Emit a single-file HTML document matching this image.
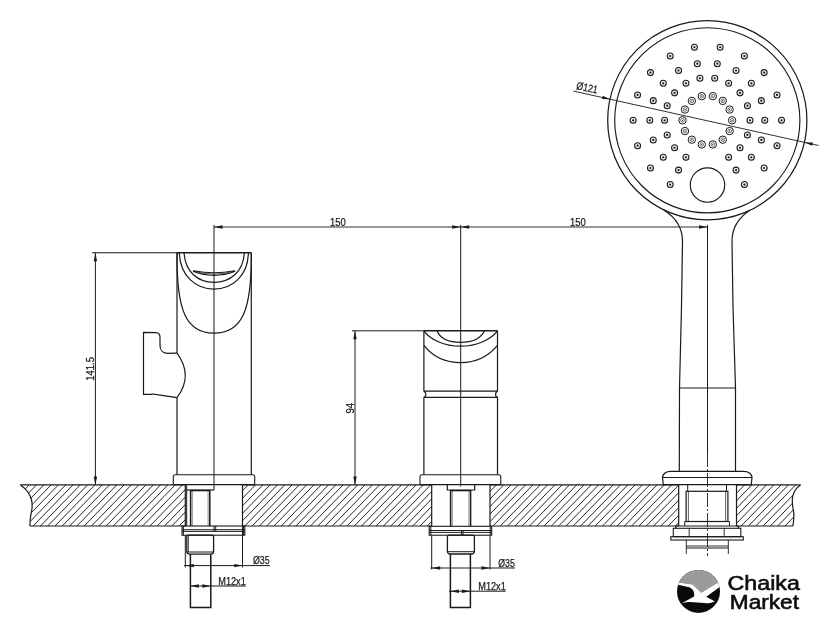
<!DOCTYPE html>
<html><head><meta charset="utf-8"><title>Drawing</title>
<style>
html,body{margin:0;padding:0;background:#fff;}
svg{display:block;filter:grayscale(1);}
text{font-family:"Liberation Sans",sans-serif;fill:#1a1a1a;stroke:#1a1a1a;stroke-width:0.25px;}
text.lgt{fill:#0d0d0d;stroke:#0d0d0d;stroke-width:0.6px;stroke-linejoin:round;}
</style></head><body>
<svg width="840" height="629" viewBox="0 0 840 629" stroke="#1a1a1a" fill="none" stroke-linecap="butt">
<rect x="0" y="0" width="840" height="629" fill="#fff" stroke="none"/>
<defs>
<clipPath id="tb"><path d="M20.4,484.9 Q29.5,491 31.5,500 Q33,506 31,514 Q29.9,519 29.9,526.0 L792.9,526.0 Q794.3,518 793.7,512 Q791.8,503 792.5,497.5 Q794,489 800.5,484.9 Z"/></clipPath>
</defs>
<g clip-path="url(#tb)" stroke-width="0.9">
<line x1="-112.90" y1="526.00" x2="-73.00" y2="484.90" stroke-width="0.95" />
<line x1="-105.60" y1="526.00" x2="-65.70" y2="484.90" stroke-width="0.95" />
<line x1="-98.30" y1="526.00" x2="-58.40" y2="484.90" stroke-width="0.95" />
<line x1="-91.00" y1="526.00" x2="-51.10" y2="484.90" stroke-width="0.95" />
<line x1="-83.70" y1="526.00" x2="-43.80" y2="484.90" stroke-width="0.95" />
<line x1="-76.40" y1="526.00" x2="-36.50" y2="484.90" stroke-width="0.95" />
<line x1="-69.10" y1="526.00" x2="-29.20" y2="484.90" stroke-width="0.95" />
<line x1="-61.80" y1="526.00" x2="-21.90" y2="484.90" stroke-width="0.95" />
<line x1="-54.50" y1="526.00" x2="-14.60" y2="484.90" stroke-width="0.95" />
<line x1="-47.20" y1="526.00" x2="-7.30" y2="484.90" stroke-width="0.95" />
<line x1="-39.90" y1="526.00" x2="-0.00" y2="484.90" stroke-width="0.95" />
<line x1="-32.60" y1="526.00" x2="7.30" y2="484.90" stroke-width="0.95" />
<line x1="-25.30" y1="526.00" x2="14.60" y2="484.90" stroke-width="0.95" />
<line x1="-18.00" y1="526.00" x2="21.90" y2="484.90" stroke-width="0.95" />
<line x1="-10.70" y1="526.00" x2="29.20" y2="484.90" stroke-width="0.95" />
<line x1="-3.40" y1="526.00" x2="36.50" y2="484.90" stroke-width="0.95" />
<line x1="3.90" y1="526.00" x2="43.80" y2="484.90" stroke-width="0.95" />
<line x1="11.20" y1="526.00" x2="51.10" y2="484.90" stroke-width="0.95" />
<line x1="18.50" y1="526.00" x2="58.40" y2="484.90" stroke-width="0.95" />
<line x1="25.80" y1="526.00" x2="65.70" y2="484.90" stroke-width="0.95" />
<line x1="33.10" y1="526.00" x2="73.00" y2="484.90" stroke-width="0.95" />
<line x1="40.40" y1="526.00" x2="80.30" y2="484.90" stroke-width="0.95" />
<line x1="47.70" y1="526.00" x2="87.60" y2="484.90" stroke-width="0.95" />
<line x1="55.00" y1="526.00" x2="94.90" y2="484.90" stroke-width="0.95" />
<line x1="62.30" y1="526.00" x2="102.20" y2="484.90" stroke-width="0.95" />
<line x1="69.60" y1="526.00" x2="109.50" y2="484.90" stroke-width="0.95" />
<line x1="76.90" y1="526.00" x2="116.80" y2="484.90" stroke-width="0.95" />
<line x1="84.20" y1="526.00" x2="124.10" y2="484.90" stroke-width="0.95" />
<line x1="91.50" y1="526.00" x2="131.40" y2="484.90" stroke-width="0.95" />
<line x1="98.80" y1="526.00" x2="138.70" y2="484.90" stroke-width="0.95" />
<line x1="106.10" y1="526.00" x2="146.00" y2="484.90" stroke-width="0.95" />
<line x1="113.40" y1="526.00" x2="153.30" y2="484.90" stroke-width="0.95" />
<line x1="120.70" y1="526.00" x2="160.60" y2="484.90" stroke-width="0.95" />
<line x1="128.00" y1="526.00" x2="167.90" y2="484.90" stroke-width="0.95" />
<line x1="135.30" y1="526.00" x2="175.20" y2="484.90" stroke-width="0.95" />
<line x1="142.60" y1="526.00" x2="182.50" y2="484.90" stroke-width="0.95" />
<line x1="149.90" y1="526.00" x2="189.80" y2="484.90" stroke-width="0.95" />
<line x1="157.20" y1="526.00" x2="197.10" y2="484.90" stroke-width="0.95" />
<line x1="164.50" y1="526.00" x2="204.40" y2="484.90" stroke-width="0.95" />
<line x1="171.80" y1="526.00" x2="211.70" y2="484.90" stroke-width="0.95" />
<line x1="179.10" y1="526.00" x2="219.00" y2="484.90" stroke-width="0.95" />
<line x1="186.40" y1="526.00" x2="226.30" y2="484.90" stroke-width="0.95" />
<line x1="193.70" y1="526.00" x2="233.60" y2="484.90" stroke-width="0.95" />
<line x1="201.00" y1="526.00" x2="240.90" y2="484.90" stroke-width="0.95" />
<line x1="208.30" y1="526.00" x2="248.20" y2="484.90" stroke-width="0.95" />
<line x1="215.60" y1="526.00" x2="255.50" y2="484.90" stroke-width="0.95" />
<line x1="222.90" y1="526.00" x2="262.80" y2="484.90" stroke-width="0.95" />
<line x1="230.20" y1="526.00" x2="270.10" y2="484.90" stroke-width="0.95" />
<line x1="237.50" y1="526.00" x2="277.40" y2="484.90" stroke-width="0.95" />
<line x1="244.80" y1="526.00" x2="284.70" y2="484.90" stroke-width="0.95" />
<line x1="252.10" y1="526.00" x2="292.00" y2="484.90" stroke-width="0.95" />
<line x1="259.40" y1="526.00" x2="299.30" y2="484.90" stroke-width="0.95" />
<line x1="266.70" y1="526.00" x2="306.60" y2="484.90" stroke-width="0.95" />
<line x1="274.00" y1="526.00" x2="313.90" y2="484.90" stroke-width="0.95" />
<line x1="281.30" y1="526.00" x2="321.20" y2="484.90" stroke-width="0.95" />
<line x1="288.60" y1="526.00" x2="328.50" y2="484.90" stroke-width="0.95" />
<line x1="295.90" y1="526.00" x2="335.80" y2="484.90" stroke-width="0.95" />
<line x1="303.20" y1="526.00" x2="343.10" y2="484.90" stroke-width="0.95" />
<line x1="310.50" y1="526.00" x2="350.40" y2="484.90" stroke-width="0.95" />
<line x1="317.80" y1="526.00" x2="357.70" y2="484.90" stroke-width="0.95" />
<line x1="325.10" y1="526.00" x2="365.00" y2="484.90" stroke-width="0.95" />
<line x1="332.40" y1="526.00" x2="372.30" y2="484.90" stroke-width="0.95" />
<line x1="339.70" y1="526.00" x2="379.60" y2="484.90" stroke-width="0.95" />
<line x1="347.00" y1="526.00" x2="386.90" y2="484.90" stroke-width="0.95" />
<line x1="354.30" y1="526.00" x2="394.20" y2="484.90" stroke-width="0.95" />
<line x1="361.60" y1="526.00" x2="401.50" y2="484.90" stroke-width="0.95" />
<line x1="368.90" y1="526.00" x2="408.80" y2="484.90" stroke-width="0.95" />
<line x1="376.20" y1="526.00" x2="416.10" y2="484.90" stroke-width="0.95" />
<line x1="383.50" y1="526.00" x2="423.40" y2="484.90" stroke-width="0.95" />
<line x1="390.80" y1="526.00" x2="430.70" y2="484.90" stroke-width="0.95" />
<line x1="398.10" y1="526.00" x2="438.00" y2="484.90" stroke-width="0.95" />
<line x1="405.40" y1="526.00" x2="445.30" y2="484.90" stroke-width="0.95" />
<line x1="412.70" y1="526.00" x2="452.60" y2="484.90" stroke-width="0.95" />
<line x1="420.00" y1="526.00" x2="459.90" y2="484.90" stroke-width="0.95" />
<line x1="427.30" y1="526.00" x2="467.20" y2="484.90" stroke-width="0.95" />
<line x1="434.60" y1="526.00" x2="474.50" y2="484.90" stroke-width="0.95" />
<line x1="441.90" y1="526.00" x2="481.80" y2="484.90" stroke-width="0.95" />
<line x1="449.20" y1="526.00" x2="489.10" y2="484.90" stroke-width="0.95" />
<line x1="456.50" y1="526.00" x2="496.40" y2="484.90" stroke-width="0.95" />
<line x1="463.80" y1="526.00" x2="503.70" y2="484.90" stroke-width="0.95" />
<line x1="471.10" y1="526.00" x2="511.00" y2="484.90" stroke-width="0.95" />
<line x1="478.40" y1="526.00" x2="518.30" y2="484.90" stroke-width="0.95" />
<line x1="485.70" y1="526.00" x2="525.60" y2="484.90" stroke-width="0.95" />
<line x1="493.00" y1="526.00" x2="532.90" y2="484.90" stroke-width="0.95" />
<line x1="500.30" y1="526.00" x2="540.20" y2="484.90" stroke-width="0.95" />
<line x1="507.60" y1="526.00" x2="547.50" y2="484.90" stroke-width="0.95" />
<line x1="514.90" y1="526.00" x2="554.80" y2="484.90" stroke-width="0.95" />
<line x1="522.20" y1="526.00" x2="562.10" y2="484.90" stroke-width="0.95" />
<line x1="529.50" y1="526.00" x2="569.40" y2="484.90" stroke-width="0.95" />
<line x1="536.80" y1="526.00" x2="576.70" y2="484.90" stroke-width="0.95" />
<line x1="544.10" y1="526.00" x2="584.00" y2="484.90" stroke-width="0.95" />
<line x1="551.40" y1="526.00" x2="591.30" y2="484.90" stroke-width="0.95" />
<line x1="558.70" y1="526.00" x2="598.60" y2="484.90" stroke-width="0.95" />
<line x1="566.00" y1="526.00" x2="605.90" y2="484.90" stroke-width="0.95" />
<line x1="573.30" y1="526.00" x2="613.20" y2="484.90" stroke-width="0.95" />
<line x1="580.60" y1="526.00" x2="620.50" y2="484.90" stroke-width="0.95" />
<line x1="587.90" y1="526.00" x2="627.80" y2="484.90" stroke-width="0.95" />
<line x1="595.20" y1="526.00" x2="635.10" y2="484.90" stroke-width="0.95" />
<line x1="602.50" y1="526.00" x2="642.40" y2="484.90" stroke-width="0.95" />
<line x1="609.80" y1="526.00" x2="649.70" y2="484.90" stroke-width="0.95" />
<line x1="617.10" y1="526.00" x2="657.00" y2="484.90" stroke-width="0.95" />
<line x1="624.40" y1="526.00" x2="664.30" y2="484.90" stroke-width="0.95" />
<line x1="631.70" y1="526.00" x2="671.60" y2="484.90" stroke-width="0.95" />
<line x1="639.00" y1="526.00" x2="678.90" y2="484.90" stroke-width="0.95" />
<line x1="646.30" y1="526.00" x2="686.20" y2="484.90" stroke-width="0.95" />
<line x1="653.60" y1="526.00" x2="693.50" y2="484.90" stroke-width="0.95" />
<line x1="660.90" y1="526.00" x2="700.80" y2="484.90" stroke-width="0.95" />
<line x1="668.20" y1="526.00" x2="708.10" y2="484.90" stroke-width="0.95" />
<line x1="675.50" y1="526.00" x2="715.40" y2="484.90" stroke-width="0.95" />
<line x1="682.80" y1="526.00" x2="722.70" y2="484.90" stroke-width="0.95" />
<line x1="690.10" y1="526.00" x2="730.00" y2="484.90" stroke-width="0.95" />
<line x1="697.40" y1="526.00" x2="737.30" y2="484.90" stroke-width="0.95" />
<line x1="704.70" y1="526.00" x2="744.60" y2="484.90" stroke-width="0.95" />
<line x1="712.00" y1="526.00" x2="751.90" y2="484.90" stroke-width="0.95" />
<line x1="719.30" y1="526.00" x2="759.20" y2="484.90" stroke-width="0.95" />
<line x1="726.60" y1="526.00" x2="766.50" y2="484.90" stroke-width="0.95" />
<line x1="733.90" y1="526.00" x2="773.80" y2="484.90" stroke-width="0.95" />
<line x1="741.20" y1="526.00" x2="781.10" y2="484.90" stroke-width="0.95" />
<line x1="748.50" y1="526.00" x2="788.40" y2="484.90" stroke-width="0.95" />
<line x1="755.80" y1="526.00" x2="795.70" y2="484.90" stroke-width="0.95" />
<line x1="763.10" y1="526.00" x2="803.00" y2="484.90" stroke-width="0.95" />
<line x1="770.40" y1="526.00" x2="810.30" y2="484.90" stroke-width="0.95" />
<line x1="777.70" y1="526.00" x2="817.60" y2="484.90" stroke-width="0.95" />
<line x1="785.00" y1="526.00" x2="824.90" y2="484.90" stroke-width="0.95" />
<line x1="792.30" y1="526.00" x2="832.20" y2="484.90" stroke-width="0.95" />
<line x1="799.60" y1="526.00" x2="839.50" y2="484.90" stroke-width="0.95" />
<line x1="806.90" y1="526.00" x2="846.80" y2="484.90" stroke-width="0.95" />
<line x1="814.20" y1="526.00" x2="854.10" y2="484.90" stroke-width="0.95" />
<rect x="185.3" y="483.9" width="57.19999999999999" height="43.10000000000002" fill="#fff" stroke="none"/>
<rect x="431.7" y="483.9" width="58.30000000000001" height="43.10000000000002" fill="#fff" stroke="none"/>
<rect x="678.7" y="483.9" width="57.799999999999955" height="43.10000000000002" fill="#fff" stroke="none"/>
</g>
<path d="M20.4,484.9 Q29.5,491 31.5,500 Q33,506 31,514 Q29.9,519 29.9,526.0" stroke-width="1.2" fill="none" />
<path d="M792.9,526.0 Q794.3,518 793.7,512 Q791.8,503 792.5,497.5 Q794,489 800.5,484.9" stroke-width="1.2" fill="none" />
<line x1="20.40" y1="484.90" x2="185.30" y2="484.90" stroke-width="1.15" />
<line x1="242.50" y1="484.90" x2="431.70" y2="484.90" stroke-width="1.15" />
<line x1="490.00" y1="484.90" x2="678.70" y2="484.90" stroke-width="1.15" />
<line x1="736.50" y1="484.90" x2="800.50" y2="484.90" stroke-width="1.15" />
<line x1="29.90" y1="526.00" x2="185.30" y2="526.00" stroke-width="1.15" />
<line x1="242.50" y1="526.00" x2="431.70" y2="526.00" stroke-width="1.15" />
<line x1="490.00" y1="526.00" x2="678.70" y2="526.00" stroke-width="1.15" />
<line x1="736.50" y1="526.00" x2="792.90" y2="526.00" stroke-width="1.15" />
<line x1="185.30" y1="484.90" x2="185.30" y2="526.00" stroke-width="1.2" />
<line x1="242.50" y1="484.90" x2="242.50" y2="526.00" stroke-width="1.2" />
<line x1="431.70" y1="484.90" x2="431.70" y2="526.00" stroke-width="1.2" />
<line x1="490.00" y1="484.90" x2="490.00" y2="526.00" stroke-width="1.2" />
<line x1="678.70" y1="484.90" x2="678.70" y2="526.00" stroke-width="1.2" />
<line x1="736.50" y1="484.90" x2="736.50" y2="526.00" stroke-width="1.2" />
<line x1="177.00" y1="252.75" x2="251.30" y2="252.75" stroke-width="1.6" />
<line x1="177.00" y1="252.75" x2="177.00" y2="353.10" stroke-width="1.2" />
<line x1="177.00" y1="397.70" x2="177.00" y2="474.70" stroke-width="1.2" />
<line x1="251.30" y1="252.75" x2="251.30" y2="474.70" stroke-width="1.2" />
<path d="M173.3,484.7 L173.3,476.7 Q173.3,474.7 175.3,474.7 L252.7,474.7 Q254.7,474.7 254.7,476.7 L254.7,484.7" stroke-width="1.1" fill="none" />
<line x1="173.30" y1="484.70" x2="254.70" y2="484.70" stroke-width="1.2" />
<path d="M184.1,252.75 C185,272 198,282.3 214.0,282.3 C230,282.3 243.5,272 244.3,252.75" stroke-width="1.2" fill="none" />
<path d="M179.3,252.75 C180,276 196,289.1 214.0,289.1 C232,289.1 248,276 248.4,252.75" stroke-width="1.2" fill="none" />
<path d="M177.0,252.75 C176.5,311 186,333.2 214.0,333.2 C242,333.2 251.8,311 251.3,252.75" stroke-width="1.2" fill="none" />
<path d="M193.7,270.8 L193.5,271.6 Q214.0,279.2 234.7,271.6 L234.5,270.8 Q214.0,274.6 193.7,270.8 Z" stroke-width="1.05" fill="none" />
<path d="M194.6,271.5 Q214.0,276.6 233.6,271.5" stroke-width="0.7" fill="none" />
<path d="M177,353.1 L167,353.3 C162,353 160,349 160,345.5 L160,337.5 C160,334 158.5,332.8 156,332.7 L143.5,332.4 L143.5,394.3 L151.6,394.4 L153,394 L157,394.7 L177,397.7" stroke-width="1.2" fill="none" />
<path d="M177,353.1 C188,368 188,383 177,397.7" stroke-width="1.2" fill="none" />
<line x1="214.00" y1="225.00" x2="214.00" y2="484.70" stroke-width="1.0" />
<line x1="186.70" y1="490.00" x2="214.00" y2="490.00" stroke-width="1.2" />
<line x1="214.00" y1="484.70" x2="214.00" y2="490.00" stroke-width="1.0" />
<line x1="186.70" y1="484.70" x2="186.70" y2="526.00" stroke-width="1.0" />
<line x1="190.60" y1="490.00" x2="190.60" y2="526.00" stroke-width="1.5" />
<line x1="209.80" y1="490.00" x2="209.80" y2="526.00" stroke-width="1.5" />
<line x1="190.60" y1="490.60" x2="209.80" y2="490.60" stroke-width="1.4" />
<line x1="192.30" y1="491.00" x2="192.30" y2="526.00" stroke-width="0.5" />
<line x1="208.10" y1="491.00" x2="208.10" y2="526.00" stroke-width="0.5" />
<rect x="182.00" y="526.00" width="62.80" height="9.20" stroke-width="1.1" fill="none"/>
<line x1="182.00" y1="529.70" x2="244.80" y2="529.70" stroke-width="1.0" />
<line x1="182.00" y1="531.40" x2="244.80" y2="531.40" stroke-width="1.0" />
<line x1="183.40" y1="526.00" x2="183.40" y2="535.20" stroke-width="1.0" />
<line x1="243.40" y1="526.00" x2="243.40" y2="535.20" stroke-width="1.0" />
<line x1="214.00" y1="526.00" x2="214.00" y2="531.40" stroke-width="1.0" />
<line x1="215.70" y1="526.00" x2="215.70" y2="531.40" stroke-width="1.0" />
<path d="M186.8,537 Q186.8,535.2 188.6,535.2 L211.8,535.2 Q213.6,535.2 213.6,537 L213.6,551.5 Q213.4,554.2 210.8,554.2 L189.8,554.2 Q187,554.2 186.8,551.5 Z" stroke-width="1.3" fill="none" />
<line x1="188.40" y1="535.20" x2="188.40" y2="552.00" stroke-width="0.8" />
<line x1="186.80" y1="552.00" x2="213.60" y2="552.00" stroke-width="1.0" />
<path d="M190.4,554.2 L190.4,607.5 L210.8,607.5 L210.8,554.2" stroke-width="1.5" fill="none" />
<line x1="185.30" y1="535.20" x2="185.30" y2="567.50" stroke-width="1.0" />
<line x1="242.50" y1="526.00" x2="242.50" y2="567.50" stroke-width="1.0" />
<line x1="184.20" y1="565.60" x2="270.00" y2="565.60" stroke-width="1.0" />
<polygon points="185.30,565.60 193.80,563.90 193.80,567.30" fill="#1a1a1a" stroke="none"/>
<polygon points="242.80,565.60 234.30,567.30 234.30,563.90" fill="#1a1a1a" stroke="none"/>
<text x="253.00" y="564.20" font-size="11.2" text-anchor="start" textLength="16.7" lengthAdjust="spacingAndGlyphs" >Ø35</text>
<line x1="190.00" y1="586.00" x2="245.80" y2="586.00" stroke-width="1.0" />
<polygon points="190.40,586.00 198.90,584.30 198.90,587.70" fill="#1a1a1a" stroke="none"/>
<polygon points="210.80,586.00 202.30,587.70 202.30,584.30" fill="#1a1a1a" stroke="none"/>
<text x="218.30" y="584.70" font-size="11.2" text-anchor="start" textLength="27.5" lengthAdjust="spacingAndGlyphs" >M12x1</text>
<line x1="92.00" y1="252.75" x2="177.00" y2="252.75" stroke-width="1.0" />
<line x1="95.40" y1="252.75" x2="95.40" y2="484.90" stroke-width="1.0" />
<polygon points="95.40,252.75 97.10,261.25 93.70,261.25" fill="#1a1a1a" stroke="none"/>
<polygon points="95.40,484.90 93.70,476.40 97.10,476.40" fill="#1a1a1a" stroke="none"/>
<text x="93.60" y="368.90" font-size="11.2" text-anchor="middle" textLength="23.8" lengthAdjust="spacingAndGlyphs" transform="rotate(-90 93.60 368.90)" >141.5</text>
<line x1="214.00" y1="227.00" x2="707.50" y2="227.00" stroke-width="0.9" />
<polygon points="214.00,227.00 222.50,225.30 222.50,228.70" fill="#1a1a1a" stroke="none"/>
<polygon points="460.70,227.00 452.20,228.70 452.20,225.30" fill="#1a1a1a" stroke="none"/>
<polygon points="460.70,227.00 469.20,225.30 469.20,228.70" fill="#1a1a1a" stroke="none"/>
<polygon points="707.50,227.00 699.00,228.70 699.00,225.30" fill="#1a1a1a" stroke="none"/>
<text x="337.80" y="225.50" font-size="11.2" text-anchor="middle" textLength="15.7" lengthAdjust="spacingAndGlyphs" >150</text>
<text x="577.80" y="225.50" font-size="11.2" text-anchor="middle" textLength="15.7" lengthAdjust="spacingAndGlyphs" >150</text>
<line x1="423.90" y1="330.80" x2="497.50" y2="330.80" stroke-width="1.4" />
<line x1="423.90" y1="330.80" x2="423.90" y2="391.20" stroke-width="1.2" />
<line x1="497.50" y1="330.80" x2="497.50" y2="391.20" stroke-width="1.2" />
<line x1="423.90" y1="391.20" x2="497.50" y2="391.20" stroke-width="1.2" />
<path d="M423.9,391.2 L425.7,393 L425.7,396 L423.9,397.3 M497.5,391.2 L495.7,393 L495.7,396 L497.5,397.3" stroke-width="1.2" fill="none" />
<line x1="423.90" y1="397.30" x2="497.50" y2="397.30" stroke-width="1.2" />
<line x1="423.90" y1="397.30" x2="423.90" y2="474.70" stroke-width="1.2" />
<line x1="497.50" y1="397.30" x2="497.50" y2="474.70" stroke-width="1.2" />
<path d="M420,484.7 L420,476.7 Q420,474.7 422,474.7 L498.8,474.7 Q500.8,474.7 500.8,476.7 L500.8,484.7" stroke-width="1.1" fill="none" />
<line x1="420.00" y1="484.70" x2="500.80" y2="484.70" stroke-width="1.2" />
<path d="M437,330.8 C440,338.4 449,342.4 460.7,342.4 C472,342.4 481,338.4 484.5,330.8" stroke-width="1.2" fill="none" />
<path d="M423.9,330.8 C430,339.4 444,346.2 460.7,346.2 C477,346.2 491,339.4 497.5,330.8" stroke-width="1.2" fill="none" />
<path d="M423.9,345.4 C432,355.8 445,362.6 460.7,362.6 C476,362.6 489,355.8 497.5,345.4" stroke-width="1.2" fill="none" />
<line x1="460.70" y1="225.00" x2="460.70" y2="484.70" stroke-width="1.0" />
<line x1="460.70" y1="484.70" x2="460.70" y2="486.60" stroke-width="0.9" />
<path d="M447.3,484.7 L447.3,490 L474.7,490 L474.7,484.7" stroke-width="1.2" fill="none" />
<line x1="450.60" y1="490.00" x2="450.60" y2="526.00" stroke-width="1.5" />
<line x1="470.60" y1="490.00" x2="470.60" y2="526.00" stroke-width="1.5" />
<line x1="450.60" y1="490.60" x2="470.60" y2="490.60" stroke-width="1.4" />
<line x1="452.30" y1="491.00" x2="452.30" y2="526.00" stroke-width="0.5" />
<line x1="468.90" y1="491.00" x2="468.90" y2="526.00" stroke-width="0.5" />
<rect x="429.20" y="526.30" width="62.50" height="8.90" stroke-width="1.1" fill="none"/>
<line x1="429.20" y1="530.50" x2="491.70" y2="530.50" stroke-width="1.0" />
<line x1="429.20" y1="532.40" x2="491.70" y2="532.40" stroke-width="1.0" />
<line x1="430.80" y1="526.30" x2="430.80" y2="535.20" stroke-width="1.0" />
<line x1="490.20" y1="526.30" x2="490.20" y2="535.20" stroke-width="1.0" />
<line x1="461.50" y1="530.50" x2="461.50" y2="535.20" stroke-width="1.0" />
<line x1="463.00" y1="530.50" x2="463.00" y2="535.20" stroke-width="1.0" />
<path d="M447.4,537 Q447.4,535.2 449.2,535.2 L472.6,535.2 Q474.4,535.2 474.4,537 L474.4,551.5 Q474.2,554 471.6,554 L450.2,554 Q447.6,554 447.4,551.5 Z" stroke-width="1.3" fill="none" />
<line x1="447.40" y1="551.70" x2="474.40" y2="551.70" stroke-width="1.0" />
<path d="M450.4,554 L450.4,607.6 L470.4,607.6 L470.4,554" stroke-width="1.5" fill="none" />
<line x1="431.70" y1="535.20" x2="431.70" y2="569.50" stroke-width="1.0" />
<line x1="490.00" y1="535.20" x2="490.00" y2="569.50" stroke-width="1.0" />
<line x1="430.50" y1="568.00" x2="515.00" y2="568.00" stroke-width="1.0" />
<polygon points="431.70,568.00 440.20,566.30 440.20,569.70" fill="#1a1a1a" stroke="none"/>
<polygon points="490.00,568.00 481.50,569.70 481.50,566.30" fill="#1a1a1a" stroke="none"/>
<text x="498.30" y="566.50" font-size="11.2" text-anchor="start" textLength="16.5" lengthAdjust="spacingAndGlyphs" >Ø35</text>
<line x1="449.00" y1="591.20" x2="505.80" y2="591.20" stroke-width="1.0" />
<polygon points="450.40,591.20 458.90,589.50 458.90,592.90" fill="#1a1a1a" stroke="none"/>
<polygon points="470.40,591.20 461.90,592.90 461.90,589.50" fill="#1a1a1a" stroke="none"/>
<text x="478.30" y="589.80" font-size="11.2" text-anchor="start" textLength="27.5" lengthAdjust="spacingAndGlyphs" >M12x1</text>
<line x1="352.00" y1="330.80" x2="423.90" y2="330.80" stroke-width="1.0" />
<line x1="355.00" y1="330.80" x2="355.00" y2="484.90" stroke-width="1.0" />
<polygon points="355.00,330.80 356.70,339.30 353.30,339.30" fill="#1a1a1a" stroke="none"/>
<polygon points="355.00,484.90 353.30,476.40 356.70,476.40" fill="#1a1a1a" stroke="none"/>
<text x="353.60" y="408.30" font-size="11.2" text-anchor="middle" textLength="10.5" lengthAdjust="spacingAndGlyphs" transform="rotate(-90 353.60 408.30)" >94</text>
<circle cx="707.3" cy="120.3" r="99.6" fill="none" stroke-width="1.25"/>
<circle cx="707.3" cy="120.3" r="92.6" fill="none" stroke-width="1.15"/>
<circle cx="707.5" cy="185" r="17.2" fill="none" stroke-width="1.15"/>
<circle cx="732.10" cy="120.30" r="3.7" fill="none" stroke-width="1.0"/><circle cx="732.10" cy="120.30" r="1.8" fill="none" stroke-width="0.6"/><circle cx="732.10" cy="120.30" r="0.6" fill="#1a1a1a" stroke="none"/>
<circle cx="729.64" cy="131.06" r="3.7" fill="none" stroke-width="1.0"/><circle cx="729.64" cy="131.06" r="1.8" fill="none" stroke-width="0.6"/><circle cx="729.64" cy="131.06" r="0.6" fill="#1a1a1a" stroke="none"/>
<circle cx="722.76" cy="139.69" r="3.7" fill="none" stroke-width="1.0"/><circle cx="722.76" cy="139.69" r="1.8" fill="none" stroke-width="0.6"/><circle cx="722.76" cy="139.69" r="0.6" fill="#1a1a1a" stroke="none"/>
<circle cx="712.82" cy="144.48" r="3.7" fill="none" stroke-width="1.0"/><circle cx="712.82" cy="144.48" r="1.8" fill="none" stroke-width="0.6"/><circle cx="712.82" cy="144.48" r="0.6" fill="#1a1a1a" stroke="none"/>
<circle cx="701.78" cy="144.48" r="3.7" fill="none" stroke-width="1.0"/><circle cx="701.78" cy="144.48" r="1.8" fill="none" stroke-width="0.6"/><circle cx="701.78" cy="144.48" r="0.6" fill="#1a1a1a" stroke="none"/>
<circle cx="691.84" cy="139.69" r="3.7" fill="none" stroke-width="1.0"/><circle cx="691.84" cy="139.69" r="1.8" fill="none" stroke-width="0.6"/><circle cx="691.84" cy="139.69" r="0.6" fill="#1a1a1a" stroke="none"/>
<circle cx="684.96" cy="131.06" r="3.7" fill="none" stroke-width="1.0"/><circle cx="684.96" cy="131.06" r="1.8" fill="none" stroke-width="0.6"/><circle cx="684.96" cy="131.06" r="0.6" fill="#1a1a1a" stroke="none"/>
<circle cx="682.50" cy="120.30" r="3.7" fill="none" stroke-width="1.0"/><circle cx="682.50" cy="120.30" r="1.8" fill="none" stroke-width="0.6"/><circle cx="682.50" cy="120.30" r="0.6" fill="#1a1a1a" stroke="none"/>
<circle cx="684.96" cy="109.54" r="3.7" fill="none" stroke-width="1.0"/><circle cx="684.96" cy="109.54" r="1.8" fill="none" stroke-width="0.6"/><circle cx="684.96" cy="109.54" r="0.6" fill="#1a1a1a" stroke="none"/>
<circle cx="691.84" cy="100.91" r="3.7" fill="none" stroke-width="1.0"/><circle cx="691.84" cy="100.91" r="1.8" fill="none" stroke-width="0.6"/><circle cx="691.84" cy="100.91" r="0.6" fill="#1a1a1a" stroke="none"/>
<circle cx="701.78" cy="96.12" r="3.7" fill="none" stroke-width="1.0"/><circle cx="701.78" cy="96.12" r="1.8" fill="none" stroke-width="0.6"/><circle cx="701.78" cy="96.12" r="0.6" fill="#1a1a1a" stroke="none"/>
<circle cx="712.82" cy="96.12" r="3.7" fill="none" stroke-width="1.0"/><circle cx="712.82" cy="96.12" r="1.8" fill="none" stroke-width="0.6"/><circle cx="712.82" cy="96.12" r="0.6" fill="#1a1a1a" stroke="none"/>
<circle cx="722.76" cy="100.91" r="3.7" fill="none" stroke-width="1.0"/><circle cx="722.76" cy="100.91" r="1.8" fill="none" stroke-width="0.6"/><circle cx="722.76" cy="100.91" r="0.6" fill="#1a1a1a" stroke="none"/>
<circle cx="729.64" cy="109.54" r="3.7" fill="none" stroke-width="1.0"/><circle cx="729.64" cy="109.54" r="1.8" fill="none" stroke-width="0.6"/><circle cx="729.64" cy="109.54" r="0.6" fill="#1a1a1a" stroke="none"/>
<circle cx="750.00" cy="120.30" r="3.0" fill="#ececec" stroke-width="1.05"/><circle cx="750.00" cy="120.30" r="1.1" fill="#1a1a1a" stroke="none"/>
<circle cx="764.80" cy="120.30" r="3.0" fill="#ececec" stroke-width="1.05"/><circle cx="764.80" cy="120.30" r="1.1" fill="#1a1a1a" stroke="none"/>
<circle cx="781.50" cy="120.30" r="3.0" fill="#ececec" stroke-width="1.05"/><circle cx="781.50" cy="120.30" r="1.1" fill="#1a1a1a" stroke="none"/>
<circle cx="747.42" cy="134.90" r="3.0" fill="#ececec" stroke-width="1.05"/><circle cx="747.42" cy="134.90" r="1.1" fill="#1a1a1a" stroke="none"/>
<circle cx="761.33" cy="139.97" r="3.0" fill="#ececec" stroke-width="1.05"/><circle cx="761.33" cy="139.97" r="1.1" fill="#1a1a1a" stroke="none"/>
<circle cx="777.03" cy="145.68" r="3.0" fill="#ececec" stroke-width="1.05"/><circle cx="777.03" cy="145.68" r="1.1" fill="#1a1a1a" stroke="none"/>
<circle cx="740.01" cy="147.75" r="3.0" fill="#ececec" stroke-width="1.05"/><circle cx="740.01" cy="147.75" r="1.1" fill="#1a1a1a" stroke="none"/>
<circle cx="751.35" cy="157.26" r="3.0" fill="#ececec" stroke-width="1.05"/><circle cx="751.35" cy="157.26" r="1.1" fill="#1a1a1a" stroke="none"/>
<circle cx="764.14" cy="167.99" r="3.0" fill="#ececec" stroke-width="1.05"/><circle cx="764.14" cy="167.99" r="1.1" fill="#1a1a1a" stroke="none"/>
<circle cx="728.65" cy="157.28" r="3.0" fill="#ececec" stroke-width="1.05"/><circle cx="728.65" cy="157.28" r="1.1" fill="#1a1a1a" stroke="none"/>
<circle cx="736.05" cy="170.10" r="3.0" fill="#ececec" stroke-width="1.05"/><circle cx="736.05" cy="170.10" r="1.1" fill="#1a1a1a" stroke="none"/>
<circle cx="744.40" cy="184.56" r="3.0" fill="#ececec" stroke-width="1.05"/><circle cx="744.40" cy="184.56" r="1.1" fill="#1a1a1a" stroke="none"/>
<circle cx="685.95" cy="157.28" r="3.0" fill="#ececec" stroke-width="1.05"/><circle cx="685.95" cy="157.28" r="1.1" fill="#1a1a1a" stroke="none"/>
<circle cx="678.55" cy="170.10" r="3.0" fill="#ececec" stroke-width="1.05"/><circle cx="678.55" cy="170.10" r="1.1" fill="#1a1a1a" stroke="none"/>
<circle cx="670.20" cy="184.56" r="3.0" fill="#ececec" stroke-width="1.05"/><circle cx="670.20" cy="184.56" r="1.1" fill="#1a1a1a" stroke="none"/>
<circle cx="674.59" cy="147.75" r="3.0" fill="#ececec" stroke-width="1.05"/><circle cx="674.59" cy="147.75" r="1.1" fill="#1a1a1a" stroke="none"/>
<circle cx="663.25" cy="157.26" r="3.0" fill="#ececec" stroke-width="1.05"/><circle cx="663.25" cy="157.26" r="1.1" fill="#1a1a1a" stroke="none"/>
<circle cx="650.46" cy="167.99" r="3.0" fill="#ececec" stroke-width="1.05"/><circle cx="650.46" cy="167.99" r="1.1" fill="#1a1a1a" stroke="none"/>
<circle cx="667.18" cy="134.90" r="3.0" fill="#ececec" stroke-width="1.05"/><circle cx="667.18" cy="134.90" r="1.1" fill="#1a1a1a" stroke="none"/>
<circle cx="653.27" cy="139.97" r="3.0" fill="#ececec" stroke-width="1.05"/><circle cx="653.27" cy="139.97" r="1.1" fill="#1a1a1a" stroke="none"/>
<circle cx="637.57" cy="145.68" r="3.0" fill="#ececec" stroke-width="1.05"/><circle cx="637.57" cy="145.68" r="1.1" fill="#1a1a1a" stroke="none"/>
<circle cx="664.60" cy="120.30" r="3.0" fill="#ececec" stroke-width="1.05"/><circle cx="664.60" cy="120.30" r="1.1" fill="#1a1a1a" stroke="none"/>
<circle cx="649.80" cy="120.30" r="3.0" fill="#ececec" stroke-width="1.05"/><circle cx="649.80" cy="120.30" r="1.1" fill="#1a1a1a" stroke="none"/>
<circle cx="633.10" cy="120.30" r="3.0" fill="#ececec" stroke-width="1.05"/><circle cx="633.10" cy="120.30" r="1.1" fill="#1a1a1a" stroke="none"/>
<circle cx="667.18" cy="105.70" r="3.0" fill="#ececec" stroke-width="1.05"/><circle cx="667.18" cy="105.70" r="1.1" fill="#1a1a1a" stroke="none"/>
<circle cx="653.27" cy="100.63" r="3.0" fill="#ececec" stroke-width="1.05"/><circle cx="653.27" cy="100.63" r="1.1" fill="#1a1a1a" stroke="none"/>
<circle cx="637.57" cy="94.92" r="3.0" fill="#ececec" stroke-width="1.05"/><circle cx="637.57" cy="94.92" r="1.1" fill="#1a1a1a" stroke="none"/>
<circle cx="674.59" cy="92.85" r="3.0" fill="#ececec" stroke-width="1.05"/><circle cx="674.59" cy="92.85" r="1.1" fill="#1a1a1a" stroke="none"/>
<circle cx="663.25" cy="83.34" r="3.0" fill="#ececec" stroke-width="1.05"/><circle cx="663.25" cy="83.34" r="1.1" fill="#1a1a1a" stroke="none"/>
<circle cx="650.46" cy="72.61" r="3.0" fill="#ececec" stroke-width="1.05"/><circle cx="650.46" cy="72.61" r="1.1" fill="#1a1a1a" stroke="none"/>
<circle cx="685.95" cy="83.32" r="3.0" fill="#ececec" stroke-width="1.05"/><circle cx="685.95" cy="83.32" r="1.1" fill="#1a1a1a" stroke="none"/>
<circle cx="678.55" cy="70.50" r="3.0" fill="#ececec" stroke-width="1.05"/><circle cx="678.55" cy="70.50" r="1.1" fill="#1a1a1a" stroke="none"/>
<circle cx="670.20" cy="56.04" r="3.0" fill="#ececec" stroke-width="1.05"/><circle cx="670.20" cy="56.04" r="1.1" fill="#1a1a1a" stroke="none"/>
<circle cx="699.89" cy="78.25" r="3.0" fill="#ececec" stroke-width="1.05"/><circle cx="699.89" cy="78.25" r="1.1" fill="#1a1a1a" stroke="none"/>
<circle cx="697.32" cy="63.67" r="3.0" fill="#ececec" stroke-width="1.05"/><circle cx="697.32" cy="63.67" r="1.1" fill="#1a1a1a" stroke="none"/>
<circle cx="694.42" cy="47.23" r="3.0" fill="#ececec" stroke-width="1.05"/><circle cx="694.42" cy="47.23" r="1.1" fill="#1a1a1a" stroke="none"/>
<circle cx="714.71" cy="78.25" r="3.0" fill="#ececec" stroke-width="1.05"/><circle cx="714.71" cy="78.25" r="1.1" fill="#1a1a1a" stroke="none"/>
<circle cx="717.28" cy="63.67" r="3.0" fill="#ececec" stroke-width="1.05"/><circle cx="717.28" cy="63.67" r="1.1" fill="#1a1a1a" stroke="none"/>
<circle cx="720.18" cy="47.23" r="3.0" fill="#ececec" stroke-width="1.05"/><circle cx="720.18" cy="47.23" r="1.1" fill="#1a1a1a" stroke="none"/>
<circle cx="728.65" cy="83.32" r="3.0" fill="#ececec" stroke-width="1.05"/><circle cx="728.65" cy="83.32" r="1.1" fill="#1a1a1a" stroke="none"/>
<circle cx="736.05" cy="70.50" r="3.0" fill="#ececec" stroke-width="1.05"/><circle cx="736.05" cy="70.50" r="1.1" fill="#1a1a1a" stroke="none"/>
<circle cx="744.40" cy="56.04" r="3.0" fill="#ececec" stroke-width="1.05"/><circle cx="744.40" cy="56.04" r="1.1" fill="#1a1a1a" stroke="none"/>
<circle cx="740.01" cy="92.85" r="3.0" fill="#ececec" stroke-width="1.05"/><circle cx="740.01" cy="92.85" r="1.1" fill="#1a1a1a" stroke="none"/>
<circle cx="751.35" cy="83.34" r="3.0" fill="#ececec" stroke-width="1.05"/><circle cx="751.35" cy="83.34" r="1.1" fill="#1a1a1a" stroke="none"/>
<circle cx="764.14" cy="72.61" r="3.0" fill="#ececec" stroke-width="1.05"/><circle cx="764.14" cy="72.61" r="1.1" fill="#1a1a1a" stroke="none"/>
<circle cx="747.42" cy="105.70" r="3.0" fill="#ececec" stroke-width="1.05"/><circle cx="747.42" cy="105.70" r="1.1" fill="#1a1a1a" stroke="none"/>
<circle cx="761.33" cy="100.63" r="3.0" fill="#ececec" stroke-width="1.05"/><circle cx="761.33" cy="100.63" r="1.1" fill="#1a1a1a" stroke="none"/>
<circle cx="777.03" cy="94.92" r="3.0" fill="#ececec" stroke-width="1.05"/><circle cx="777.03" cy="94.92" r="1.1" fill="#1a1a1a" stroke="none"/>
<line x1="573.30" y1="91.07" x2="818.50" y2="145.48" stroke-width="0.9" />
<polygon points="610.17,99.18 601.99,99.11 602.73,95.79" fill="#1a1a1a" stroke="none"/>
<polygon points="804.73,142.42 812.91,142.49 812.17,145.81" fill="#1a1a1a" stroke="none"/>
<text x="575.80" y="89.00" font-size="10.8" text-anchor="start" textLength="21.6" lengthAdjust="spacingAndGlyphs" transform="rotate(12.511213334496693 575.80 89.00)" >Ø121</text>
<path d="M663.7,209.9 C674,216.3 682.5,226 682.5,241 L681.5,307 L679.5,388 L679.3,471.3" stroke-width="1.2" fill="none" />
<path d="M749.5,210.4 C740,216.8 732,226 732,241 L733,307 L735.5,388 L735.5,471.3" stroke-width="1.2" fill="none" />
<line x1="679.50" y1="388.00" x2="735.50" y2="388.00" stroke-width="1.2" />
<line x1="707.50" y1="225.00" x2="707.50" y2="453.00" stroke-width="1.0" />
<line x1="707.50" y1="453.00" x2="707.50" y2="556.00" stroke-width="0.9" stroke-dasharray="14 2 2 2"/>
<path d="M663.3,484.7 L662.5,477.5 C663,473.3 666,471.3 671,471.3 L743.5,471.3 C748.5,471.3 751.5,473.3 752,477.5 L751.2,484.7 Z" stroke-width="1.2" fill="none" />
<line x1="662.50" y1="477.50" x2="752.00" y2="477.50" stroke-width="1.2" />
<line x1="687.70" y1="484.70" x2="687.70" y2="491.30" stroke-width="1.0" />
<line x1="726.50" y1="484.70" x2="726.50" y2="491.30" stroke-width="1.0" />
<rect x="686.10" y="491.30" width="41.80" height="30.20" stroke-width="1.2" fill="none"/>
<line x1="688.40" y1="491.30" x2="688.40" y2="521.50" stroke-width="0.7" />
<line x1="725.60" y1="491.30" x2="725.60" y2="521.50" stroke-width="0.7" />
<path d="M684.7,526 L684.7,521.5 L729.5,521.5 L729.5,526" stroke-width="1.0" fill="none" />
<line x1="675.80" y1="526.00" x2="738.70" y2="526.00" stroke-width="1.1" />
<path d="M675.8,526 L675.8,528.3 M738.7,526 L738.7,528.3" stroke-width="1.2" fill="none" />
<rect x="673.30" y="528.30" width="67.50" height="8.40" stroke-width="1.1" fill="none"/>
<line x1="689.20" y1="528.30" x2="689.20" y2="536.70" stroke-width="0.9" />
<line x1="724.20" y1="528.30" x2="724.20" y2="536.70" stroke-width="0.9" />
<rect x="670.80" y="536.70" width="72.50" height="3.30" stroke-width="1.1" fill="none"/>
<line x1="686.30" y1="540.00" x2="686.30" y2="554.00" stroke-width="0.9" />
<line x1="728.30" y1="540.00" x2="728.30" y2="554.00" stroke-width="0.9" />
<line x1="686.30" y1="546.00" x2="728.30" y2="546.00" stroke-width="0.9" />
<line x1="686.30" y1="548.00" x2="728.30" y2="548.00" stroke-width="1.1" />
<clipPath id="lg"><circle cx="698.5" cy="591.4" r="21.5"/></clipPath>
<g clip-path="url(#lg)" stroke="none">
<rect x="677.0" y="569.9" width="43.0" height="43.0" fill="#0a0a0a"/>
<path d="M670,560 L730,560 L730,575 L722,580 L701.3,592.7 L692.7,584.6 L676,582.1 Z" fill="#9b9b9b"/>
<path d="M676,582.1 L692.7,584.6 L701.3,592.7 L722,580 L722,585.3 L706.3,596.7 L714.9,601.5 C711,603 708,603.5 706.3,603.3 C703,602.8 700,602.4 697.2,602.4 C694,602.2 691,601.8 688.1,602 C685.5,602.3 683.5,602.8 681.8,603.3 L694,596.5 C694.5,594 694,591 692.2,589.3 C691,588 689.5,587.4 688.1,587 L676,584.3 Z" fill="#fff"/>
</g>
<text x="727.6" y="589.5" font-size="20.1" textLength="72.2" lengthAdjust="spacingAndGlyphs" class="lgt">Chaika</text>
<text x="729.8" y="609" font-size="20.1" textLength="69.2" lengthAdjust="spacingAndGlyphs" class="lgt">Market</text>
</svg>
</body></html>
